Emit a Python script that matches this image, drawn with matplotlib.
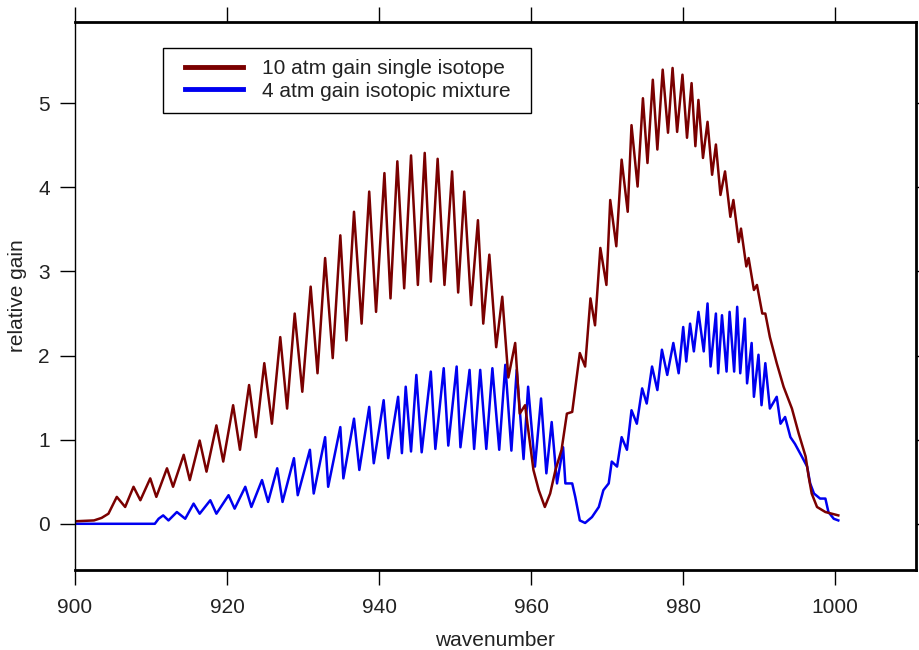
import numpy as np
import matplotlib.pyplot as plt
from matplotlib.lines import Line2D
from matplotlib.patches import Rectangle

plt.rcParams['font.family'] = ['Liberation Sans', 'DejaVu Sans']

# 10 atm, single isotope (peaks / troughs)
red_x = [900.0, 902.5, 903.5, 904.4, 905.5, 906.6, 907.7, 908.6, 909.9, 910.7,
         912.1, 912.9, 914.3, 915.1, 916.4, 917.3, 918.6, 919.5, 920.8, 921.7,
         922.9, 923.8, 924.9, 925.9, 927.0, 927.9, 928.9, 929.9, 931.0, 931.9,
         932.9, 933.9, 934.9, 935.7, 936.7, 937.7, 938.7, 939.6, 940.7, 941.5,
         942.4, 943.3, 944.2, 945.1, 946.0, 946.8, 947.7, 948.6, 949.6, 950.4,
         951.2, 952.1, 953.0, 953.7, 954.5, 955.4, 956.2, 957.0, 957.9, 958.5,
         959.2, 960.3, 961.0, 961.8, 962.5, 963.2, 964.0, 964.7, 965.4, 966.4,
         967.1, 967.8, 968.4, 969.1, 969.9, 970.4, 971.2, 971.9, 972.7, 973.2,
         974.0, 974.7, 975.3, 976.0, 976.6, 977.3, 978.0, 978.6, 979.2, 979.9,
         980.5, 981.1, 981.6, 982.0, 982.6, 983.2, 983.8, 984.3, 984.9, 985.5,
         986.2, 986.6, 987.3, 987.6, 988.3, 988.6, 989.3, 989.7, 990.4, 990.8,
         991.4, 992.3, 993.2, 994.3, 995.2, 996.1, 996.5, 996.9, 997.6, 998.7,
         1000.4]
red_y = [0.03, 0.04, 0.07, 0.12, 0.32, 0.20, 0.44, 0.28, 0.54, 0.32,
         0.66, 0.44, 0.82, 0.52, 0.99, 0.62, 1.17, 0.74, 1.41, 0.88,
         1.65, 1.03, 1.91, 1.19, 2.22, 1.37, 2.50, 1.57, 2.82, 1.79,
         3.16, 1.97, 3.43, 2.18, 3.71, 2.38, 3.95, 2.52, 4.17, 2.68,
         4.31, 2.80, 4.38, 2.84, 4.41, 2.88, 4.34, 2.84, 4.19, 2.75,
         3.95, 2.60, 3.61, 2.38, 3.20, 2.10, 2.70, 1.74, 2.15, 1.31,
         1.41, 0.64, 0.40, 0.20, 0.36, 0.64, 0.88, 1.31, 1.33, 2.03,
         1.87, 2.68, 2.36, 3.28, 2.84, 3.85, 3.30, 4.33, 3.71, 4.74,
         4.01, 5.06, 4.29, 5.28, 4.45, 5.40, 4.65, 5.42, 4.66, 5.34,
         4.59, 5.24, 4.49, 5.04, 4.35, 4.78, 4.15, 4.51, 3.91, 4.19,
         3.65, 3.85, 3.35, 3.51, 3.06, 3.16, 2.78, 2.84, 2.50, 2.50,
         2.22, 1.91, 1.63, 1.37, 1.07, 0.80, 0.56, 0.36, 0.20, 0.14,
         0.10]

# 4 atm, isotopic mixture
blue_x = [900.0, 910.5, 911.0, 911.6, 912.3, 913.4, 914.5, 915.6, 916.4, 917.8,
          918.6, 920.2, 921.0, 922.4, 923.2, 924.6, 925.4, 926.6, 927.3, 928.8,
          929.3, 930.9, 931.4, 932.9, 933.3, 934.9, 935.3, 936.7, 937.4, 938.7,
          939.3, 940.6, 941.2, 942.5, 943.0, 943.5, 944.2, 944.9, 945.6, 946.8,
          947.4, 948.5, 949.1, 950.2, 950.7, 951.9, 952.5, 953.3, 954.1, 954.9,
          955.8, 956.6, 957.4, 958.1, 959.0, 959.6, 960.5, 961.3, 962.0, 962.7,
          963.4, 964.2, 964.5, 965.4, 965.8, 966.4, 967.1, 968.0, 968.9, 969.5,
          970.2, 970.6, 971.3, 971.9, 972.6, 973.2, 973.9, 974.6, 975.2, 975.9,
          976.6, 977.2, 977.9, 978.7, 979.4, 980.0, 980.4, 980.9, 981.4, 982.0,
          982.7, 983.2, 983.6, 984.3, 984.6, 985.1, 985.7, 986.1, 986.7, 987.1,
          987.5, 988.1, 988.4, 989.0, 989.3, 989.9, 990.3, 990.8, 991.4, 992.3,
          992.8, 993.4, 994.1, 994.7, 995.6, 996.3, 996.7, 997.2, 998.0, 998.7,
          999.1, 999.8, 1000.4]
blue_y = [0.00, 0.00, 0.06, 0.10, 0.04, 0.14, 0.06, 0.24, 0.12, 0.28,
          0.12, 0.34, 0.18, 0.44, 0.20, 0.52, 0.26, 0.66, 0.26, 0.78,
          0.34, 0.88, 0.36, 1.03, 0.44, 1.15, 0.54, 1.25, 0.64, 1.39,
          0.72, 1.47, 0.78, 1.51, 0.84, 1.63, 0.86, 1.77, 0.85, 1.81,
          0.89, 1.85, 0.93, 1.87, 0.91, 1.83, 0.89, 1.83, 0.89, 1.85,
          0.88, 1.89, 0.87, 1.83, 0.77, 1.63, 0.68, 1.49, 0.60, 1.21,
          0.48, 0.91, 0.48, 0.48, 0.32, 0.04, 0.01, 0.08, 0.20, 0.40,
          0.48, 0.74, 0.68, 1.03, 0.88, 1.35, 1.19, 1.61, 1.43, 1.87,
          1.59, 2.07, 1.77, 2.15, 1.79, 2.34, 1.93, 2.38, 2.05, 2.52,
          2.05, 2.62, 1.87, 2.50, 1.79, 2.48, 1.81, 2.52, 1.81, 2.58,
          1.79, 2.44, 1.67, 2.15, 1.51, 2.01, 1.41, 1.91, 1.37, 1.51,
          1.19, 1.27, 1.03, 0.95, 0.80, 0.68, 0.48, 0.36, 0.30, 0.30,
          0.14, 0.06, 0.04]

labels = ['10 atm gain single isotope', '4 atm gain isotopic mixture']
red = '#7a0000'
blue = '#0000f0'

fig = plt.figure(figsize=(9.2, 6.5), dpi=100)
ax = fig.add_axes([0.0815, 0.123, 0.914, 0.8436])

ax.plot(blue_x, blue_y, color=blue, lw=1.8)
ax.plot(red_x, red_y, color=red, lw=1.8)

ax.set_xlim(900, 1010.6)
ax.set_ylim(-0.55, 5.97)
ax.set_xticks([900, 920, 940, 960, 980, 1000])
ax.set_yticks([0, 1, 2, 3, 4, 5])
ax.tick_params(axis='both', direction='out', length=11, width=1,
               labelsize=15, labelcolor='#222222')
ax.tick_params(axis='x', pad=9, top=True)
ax.tick_params(axis='y', pad=7, right=True)

for side in ['top', 'bottom', 'right']:
    ax.spines[side].set_linewidth(2.0)
ax.spines['left'].set_linewidth(1.0)

ax.set_xlabel('wavenumber', fontsize=15, color='#222222', labelpad=10)
ax.set_ylabel('relative gain', fontsize=15, color='#222222', labelpad=8)

# legend box drawn separately so the padding matches the original
ax.add_patch(Rectangle((0.1047, 0.834), 0.4377, 0.1186, transform=ax.transAxes,
                       facecolor='white', edgecolor='black', lw=1.0, zorder=4))
handles = [Line2D([], [], color=red, lw=3.5), Line2D([], [], color=blue, lw=3.5)]
leg = ax.legend(handles, labels, loc='center left', bbox_to_anchor=(0.1308, 0.8937),
                borderaxespad=0, borderpad=0, fontsize=15, frameon=False,
                handlelength=2.8, handletextpad=0.9, labelspacing=0.15)
leg.set_zorder(5)
for t in leg.get_texts():
    t.set_color('#222222')

fig.savefig('out.png', dpi=100)
